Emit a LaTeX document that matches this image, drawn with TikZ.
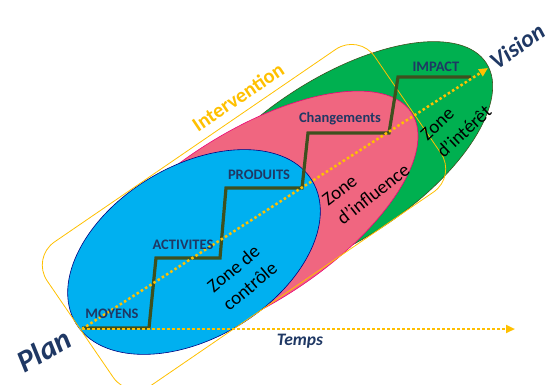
\documentclass[tikz,border=0pt]{standalone}
\usepackage{fontspec}
\setmainfont{Carlito}
\usetikzlibrary{shapes.geometric,arrows.meta}
\usepackage{xcolor}
\definecolor{ctrlblue}{RGB}{0,176,240}
\definecolor{inflpink}{RGB}{240,102,128}
\definecolor{intgreen}{RGB}{0,176,80}
\definecolor{intervyellow}{RGB}{255,192,0}
\definecolor{labelblue}{RGB}{31,56,100}
\definecolor{stepolive}{RGB}{62,80,30}

\begin{document}
\begin{tikzpicture}[
    x=1pt, y=-1pt,
    zone/.style={ellipse, inner sep=0pt, line width=0.6pt},
    zonetext/.style={font=\fontsize{19}{24}\selectfont, align=left, text=black, inner sep=1pt},
    steplabel/.style={font=\fontsize{14.5}{16}\selectfont\bfseries, text=labelblue},
    axislabel/.style={font=\bfseries\itshape, text=labelblue},
    dotarrow/.style={draw=intervyellow, line width=2.5pt, dash pattern=on 2.5pt off 2.5pt,
                     -{Triangle[length=9pt,width=8pt]}},
    stairs/.style={draw=stepolive, line width=3.2pt}
]
\useasboundingbox (0,0) rectangle (552,385);

% Zones
\node[zone, fill=intgreen, draw=stepolive, minimum width=356pt, minimum height=162pt,
      rotate=33] (interet) at (337,160) {};
\node[zone, fill=inflpink, draw=magenta!80!red, minimum width=390pt, minimum height=170pt,
      rotate=33] (influence) at (248,219) {};
\node[zone, fill=ctrlblue, draw=blue!50!black, minimum width=276pt, minimum height=172pt,
      rotate=31] (controle) at (194,252) {};

% Intervention frame
\node[draw=intervyellow, line width=0.8pt, rounded corners=28pt, minimum width=397pt,
      minimum height=173pt, rotate=34.4] (interv) at (244,217) {};

% Steps
\draw[stairs] (82,328) -- (149,328) -- (156,258) -- (220,258) -- (226,188)
    -- (302,188) -- (308,133) -- (389,133) -- (398,77) -- (471,77);

% Axes
\coordinate (origin) at (82,329);
\coordinate (tempsend) at (515,329);
\coordinate (visionend) at (488,68);
\draw[dotarrow] (origin) -- (tempsend);
\draw[dotarrow] (origin) -- (visionend);

% Labels
\node[steplabel] (moyens) at (112,314) {MOYENS};
\node[steplabel] (activites) at (183,245) {ACTIVITES};
\node[steplabel] (produits) at (259,175) {PRODUITS};
\node[steplabel] (changements) at (340,119) {Changements};
\node[steplabel] (impact) at (436,67) {IMPACT};

\node[zonetext, rotate=40] (zctrl) at (242,277) {Zone de\\contrôle};
\node[zonetext, rotate=38] (zinfl) at (366,185) {Zone\\d’influence};
\node[zonetext, rotate=43] (zint) at (456,123) {Zone\\d’intérêt};

\node[font=\fontsize{20.5}{24}\selectfont\bfseries, text=intervyellow, rotate=34]
    (intervtext) at (238,97) {Intervention};

\node[axislabel, font=\fontsize{31}{34}\selectfont\bfseries\itshape, rotate=29] (plan) at (44,350) {Plan};
\node[axislabel, font=\fontsize{24}{28}\selectfont\bfseries\itshape, rotate=35] (vision) at (517,46) {Vision};
\node[axislabel, font=\fontsize{17.5}{20}\selectfont\bfseries\itshape] (temps) at (300,341) {Temps};

\end{tikzpicture}
\end{document}
